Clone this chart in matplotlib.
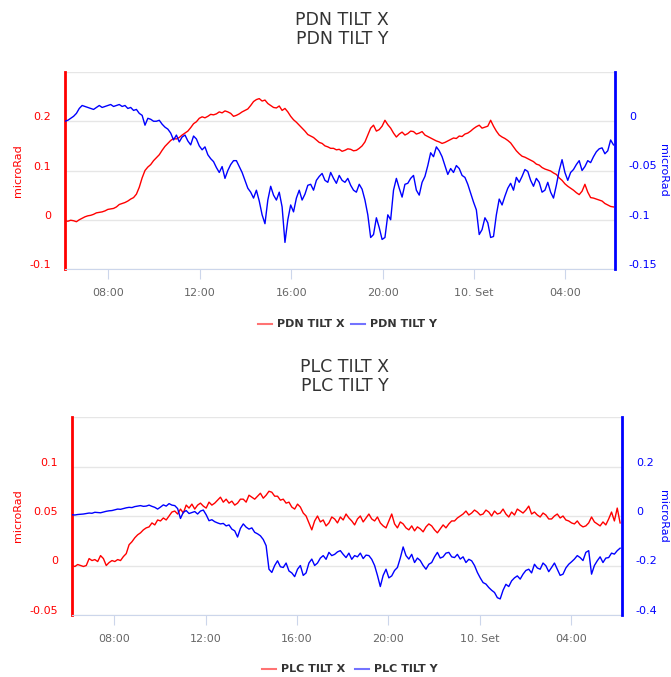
import pandas as pd
import matplotlib
matplotlib.use("Agg")
import matplotlib.pyplot as plt
import matplotlib.dates as mdates
import matplotlib.transforms as mtrans
from matplotlib.lines import Line2D

# ---- data: one row per hour, 7.5 min steps ----
pdn_x = [
    -0.002, -0.003, -0.001, -0.002, -0.004, 0.000, 0.003, 0.006,
    0.008, 0.009, 0.011, 0.014, 0.015, 0.016, 0.018, 0.021,
    0.022, 0.023, 0.026, 0.031, 0.033, 0.035, 0.038, 0.042,
    0.045, 0.052, 0.066, 0.085, 0.100, 0.107, 0.112, 0.120,
    0.126, 0.132, 0.141, 0.149, 0.155, 0.161, 0.165, 0.164,
    0.167, 0.172, 0.176, 0.180, 0.187, 0.195, 0.199, 0.206,
    0.209, 0.207, 0.210, 0.214, 0.213, 0.215, 0.219, 0.217,
    0.221, 0.219, 0.216, 0.210, 0.212, 0.215, 0.219, 0.222,
    0.225, 0.232, 0.240, 0.244, 0.246, 0.241, 0.243, 0.236,
    0.232, 0.228, 0.227, 0.231, 0.222, 0.226, 0.219, 0.210,
    0.203, 0.198, 0.192, 0.186, 0.180, 0.173, 0.170, 0.167,
    0.162, 0.157, 0.155, 0.150, 0.148, 0.145, 0.145, 0.142,
    0.143, 0.139, 0.141, 0.144, 0.143, 0.140, 0.141, 0.145,
    0.150, 0.158, 0.172, 0.186, 0.192, 0.180, 0.183, 0.190,
    0.202, 0.193, 0.186, 0.176, 0.168, 0.174, 0.178, 0.172,
    0.175, 0.180, 0.179, 0.174, 0.176, 0.179, 0.172, 0.169,
    0.166, 0.163, 0.160, 0.158, 0.155, 0.157, 0.160, 0.163,
    0.166, 0.165, 0.170, 0.169, 0.174, 0.176, 0.180, 0.185,
    0.189, 0.192, 0.186, 0.188, 0.190, 0.202, 0.190, 0.180,
    0.172, 0.168, 0.165, 0.161, 0.156, 0.148, 0.140, 0.134,
    0.129, 0.127, 0.124, 0.121, 0.118, 0.113, 0.111, 0.106,
    0.103, 0.101, 0.099, 0.095, 0.092, 0.085, 0.080, 0.073,
    0.068, 0.064, 0.060, 0.055, 0.051, 0.058, 0.072, 0.056,
    0.045, 0.044, 0.042, 0.040, 0.038, 0.033, 0.030, 0.027,
    0.026]
pdn_y = [
    0.000, 0.001, 0.003, 0.005, 0.008, 0.013, 0.016, 0.015,
    0.014, 0.013, 0.012, 0.014, 0.016, 0.014, 0.015, 0.016,
    0.017, 0.015, 0.016, 0.017, 0.015, 0.016, 0.013, 0.014,
    0.011, 0.012, 0.008, 0.006, -0.004, 0.003, 0.002, 0.000,
    0.000, 0.001, -0.003, -0.006, -0.008, -0.012, -0.019, -0.014,
    -0.021, -0.016, -0.014, -0.020, -0.024, -0.015, -0.018, -0.025,
    -0.029, -0.026, -0.034, -0.038, -0.041, -0.047, -0.052, -0.046,
    -0.058, -0.050, -0.044, -0.040, -0.040, -0.046, -0.052, -0.060,
    -0.068, -0.072, -0.078, -0.070, -0.081, -0.095, -0.104, -0.080,
    -0.066, -0.075, -0.080, -0.072, -0.087, -0.123, -0.100, -0.085,
    -0.092, -0.078, -0.070, -0.080, -0.074, -0.065, -0.064, -0.070,
    -0.060, -0.056, -0.053, -0.060, -0.062, -0.052, -0.058, -0.063,
    -0.055, -0.060, -0.062, -0.058, -0.065, -0.070, -0.072, -0.064,
    -0.069, -0.080, -0.095, -0.118, -0.115, -0.098, -0.108, -0.120,
    -0.118, -0.095, -0.100, -0.070, -0.058, -0.068, -0.077, -0.064,
    -0.063, -0.058, -0.055, -0.070, -0.075, -0.062, -0.056, -0.045,
    -0.032, -0.036, -0.026, -0.030, -0.036, -0.045, -0.054, -0.048,
    -0.052, -0.045, -0.048, -0.055, -0.057, -0.064, -0.073, -0.082,
    -0.090, -0.115, -0.110, -0.098, -0.103, -0.118, -0.117, -0.095,
    -0.079, -0.085, -0.076, -0.068, -0.063, -0.070, -0.057, -0.062,
    -0.056, -0.049, -0.051, -0.060, -0.066, -0.058, -0.062, -0.072,
    -0.070, -0.062, -0.072, -0.078, -0.065, -0.050, -0.039, -0.052,
    -0.060, -0.052, -0.049, -0.044, -0.040, -0.050, -0.046, -0.040,
    -0.042, -0.036, -0.031, -0.028, -0.027, -0.033, -0.030, -0.019,
    -0.024]
plc_x = [
    0.000, -0.001, 0.001, 0.000, -0.001, 0.000, 0.007, 0.005,
    0.006, 0.004, 0.010, 0.007, 0.000, 0.003, 0.005, 0.004,
    0.006, 0.005, 0.009, 0.012, 0.021, 0.024, 0.028, 0.031,
    0.033, 0.036, 0.038, 0.039, 0.043, 0.041, 0.046, 0.045,
    0.048, 0.046, 0.050, 0.054, 0.055, 0.052, 0.057, 0.053,
    0.061, 0.058, 0.062, 0.057, 0.061, 0.063, 0.060, 0.058,
    0.064, 0.061, 0.063, 0.066, 0.069, 0.064, 0.067, 0.063,
    0.065, 0.061, 0.063, 0.067, 0.067, 0.064, 0.071, 0.069,
    0.067, 0.070, 0.073, 0.068, 0.071, 0.075, 0.074, 0.070,
    0.070, 0.066, 0.067, 0.063, 0.064, 0.059, 0.057, 0.062,
    0.059, 0.053, 0.050, 0.043, 0.036, 0.045, 0.050, 0.044,
    0.046, 0.040, 0.043, 0.049, 0.047, 0.043, 0.049, 0.046,
    0.052, 0.048, 0.045, 0.041, 0.047, 0.050, 0.044, 0.048,
    0.052, 0.047, 0.045, 0.049, 0.043, 0.040, 0.038, 0.045,
    0.052, 0.042, 0.038, 0.044, 0.042, 0.038, 0.036, 0.040,
    0.035, 0.039, 0.037, 0.034, 0.039, 0.042, 0.040, 0.036,
    0.033, 0.037, 0.041, 0.038, 0.042, 0.045, 0.045, 0.048,
    0.050, 0.052, 0.055, 0.051, 0.053, 0.056, 0.054, 0.051,
    0.052, 0.056, 0.054, 0.050, 0.055, 0.052, 0.053, 0.057,
    0.052, 0.049, 0.054, 0.051, 0.057, 0.055, 0.053, 0.056,
    0.060, 0.052, 0.054, 0.051, 0.049, 0.053, 0.051, 0.047,
    0.047, 0.050, 0.052, 0.048, 0.050, 0.046, 0.045, 0.043,
    0.042, 0.045, 0.041, 0.039, 0.040, 0.043, 0.049, 0.044,
    0.042, 0.040, 0.044, 0.041, 0.047, 0.054, 0.045, 0.058,
    0.043]
plc_y = [
    0.005, 0.004, 0.006, 0.007, 0.008, 0.010, 0.012, 0.011,
    0.015, 0.014, 0.013, 0.016, 0.019, 0.021, 0.022, 0.025,
    0.028, 0.027, 0.030, 0.033, 0.035, 0.034, 0.038, 0.040,
    0.042, 0.039, 0.040, 0.044, 0.039, 0.035, 0.028, 0.036,
    0.045, 0.040, 0.050, 0.044, 0.042, 0.030, -0.010, 0.015,
    0.022, 0.010, 0.014, 0.018, 0.008, 0.020, 0.024, 0.005,
    -0.019, -0.015, -0.023, -0.028, -0.032, -0.030, -0.040, -0.036,
    -0.053, -0.060, -0.085, -0.050, -0.032, -0.045, -0.053, -0.048,
    -0.066, -0.072, -0.080, -0.095, -0.120, -0.215, -0.228, -0.200,
    -0.181, -0.205, -0.208, -0.190, -0.222, -0.230, -0.245, -0.215,
    -0.200, -0.240, -0.230, -0.190, -0.174, -0.200, -0.190, -0.170,
    -0.160, -0.175, -0.147, -0.160, -0.155, -0.145, -0.140, -0.155,
    -0.168, -0.150, -0.175, -0.160, -0.165, -0.150, -0.172, -0.158,
    -0.160, -0.175, -0.200, -0.240, -0.285, -0.240, -0.215, -0.250,
    -0.242, -0.220, -0.208, -0.170, -0.125, -0.160, -0.174, -0.155,
    -0.188, -0.170, -0.180, -0.200, -0.215, -0.195, -0.188, -0.165,
    -0.147, -0.170, -0.165, -0.150, -0.147, -0.165, -0.168, -0.155,
    -0.174, -0.165, -0.188, -0.175, -0.181, -0.200, -0.228, -0.250,
    -0.269, -0.275, -0.289, -0.300, -0.309, -0.330, -0.335, -0.300,
    -0.276, -0.285, -0.262, -0.250, -0.242, -0.255, -0.235, -0.220,
    -0.215, -0.230, -0.195, -0.210, -0.215, -0.190, -0.201, -0.225,
    -0.208, -0.190, -0.215, -0.240, -0.235, -0.210, -0.195, -0.185,
    -0.174, -0.160, -0.168, -0.180, -0.147, -0.140, -0.235, -0.200,
    -0.181, -0.165, -0.188, -0.170, -0.168, -0.150, -0.154, -0.140,
    -0.130]

pdn_ticks_l = [-0.1, 0, 0.1, 0.2, 0.3]
pdn_labels_l = ["-0.1", "0", "0.1", "0.2", ""]
pdn_ticks_r = [-0.15, -0.1, -0.05, 0, 0.05]
pdn_labels_r = ["-0.15", "-0.1", "-0.05", "0", ""]
plc_ticks_l = [-0.05, 0, 0.05, 0.1, 0.15]
plc_labels_l = ["-0.05", "0", "0.05", "0.1", ""]
plc_ticks_r = [-0.4, -0.2, 0, 0.2, 0.4]
plc_labels_r = ["-0.4", "-0.2", "0", "0.2", ""]

RED, BLUE = "#ff0000", "#0000ff"
TXT = "#333333"

fig = plt.figure(figsize=(6.71, 6.77), dpi=100)
W, H = 671, 677


def fmt_time(x, pos=None):
    d = mdates.num2date(x)
    if d.hour == 0 and d.minute == 0:
        return f"{d.day}. Set"
    return d.strftime("%H:%M")


def panel(rect, start, xend, xs, ys, tl, ll, tr, lr, lab_l, lab_r):
    ax = fig.add_axes(rect)
    ax2 = ax.twinx()
    ax.plot(pd.date_range(start, periods=len(xs), freq="450s"), xs, color=RED, lw=1.0)
    ax2.plot(pd.date_range(start, periods=len(ys), freq="450s"), ys, color=BLUE, lw=1.0)
    ax.set_xlim(pd.Timestamp(start), pd.Timestamp(xend))
    ax.set_ylim(tl[0], tl[-1])
    ax2.set_ylim(tr[0], tr[-1])
    ax.set_yticks(tl, ll)
    ax2.set_yticks(tr, lr)
    ax.grid(axis="y", color="#e6e6e6", lw=1)
    ax.set_axisbelow(True)
    ax.xaxis.set_major_locator(mdates.HourLocator(byhour=[0, 4, 8, 12, 16, 20]))
    ax.xaxis.set_major_formatter(plt.FuncFormatter(fmt_time))
    ax.tick_params(axis="x", length=7, color="#ccd6eb", labelcolor="#666666", labelsize=8, pad=7)
    ax.tick_params(axis="y", length=0, labelcolor=RED, labelsize=8, pad=10)
    ax2.tick_params(axis="y", length=0, labelcolor=BLUE, labelsize=8, pad=10)
    for s in ["top", "right"]:
        ax.spines[s].set_visible(False)
    for s in ["top", "left", "bottom"]:
        ax2.spines[s].set_visible(False)
    ax.spines["left"].set_color(RED)
    ax.spines["left"].set_linewidth(2)
    ax2.spines["right"].set_color(BLUE)
    ax2.spines["right"].set_linewidth(2)
    ax.spines["bottom"].set_color("#ccd6eb")
    off = mtrans.ScaledTranslation(0, 5 / 100, fig.dpi_scale_trans)
    for lbl in ax.get_yticklabels() + ax2.get_yticklabels():
        lbl.set_transform(lbl.get_transform() + off)
    ax.set_ylabel("microRad", color=RED, fontsize=8, va="center", ha="center")
    ax.yaxis.set_label_coords(lab_l, 0.5)
    ax2.set_ylabel("microRad", color=BLUE, fontsize=8, rotation=270, va="center", ha="center")
    ax2.yaxis.set_label_coords(lab_r, 0.5)
    return ax


def legend(y, x0, n1, n2):
    yy = 1 - y / H
    fig.add_artist(Line2D([x0 / W, (x0 + 14) / W], [yy, yy], color=RED, lw=1.5, alpha=0.55))
    fig.text((x0 + 19) / W, yy, n1, fontsize=8, fontweight="bold", color=TXT, va="center")
    fig.add_artist(Line2D([(x0 + 93) / W, (x0 + 107) / W], [yy, yy], color=BLUE, lw=1.5, alpha=0.55))
    fig.text((x0 + 112) / W, yy, n2, fontsize=8, fontweight="bold", color=TXT, va="center")


# PDN panel
panel([65 / W, 1 - 269 / H, 550 / W, 197 / H], "2019-09-09 06:06", "2019-09-10 06:10",
      pdn_x, pdn_y, pdn_ticks_l, pdn_labels_l, pdn_ticks_r, pdn_labels_r,
      (18 - 65) / 550, (663 - 65) / 550)
fig.text(342 / W, 1 - 20 / H, "PDN TILT X", ha="center", va="center", fontsize=12.5, color=TXT)
fig.text(342 / W, 1 - 39 / H, "PDN TILT Y", ha="center", va="center", fontsize=12.5, color=TXT)
legend(324, 258, "PDN TILT X", "PDN TILT Y")

# PLC panel
panel([72 / W, 1 - 615 / H, 550 / W, 198 / H], "2019-09-09 06:09", "2019-09-10 06:14",
      plc_x, plc_y, plc_ticks_l, plc_labels_l, plc_ticks_r, plc_labels_r,
      (18 - 72) / 550, (663 - 72) / 550)
fig.text(345 / W, 1 - 367 / H, "PLC TILT X", ha="center", va="center", fontsize=12.5, color=TXT)
fig.text(345 / W, 1 - 386 / H, "PLC TILT Y", ha="center", va="center", fontsize=12.5, color=TXT)
legend(669, 262, "PLC TILT X", "PLC TILT Y")

fig.savefig("out.png", dpi=100)
